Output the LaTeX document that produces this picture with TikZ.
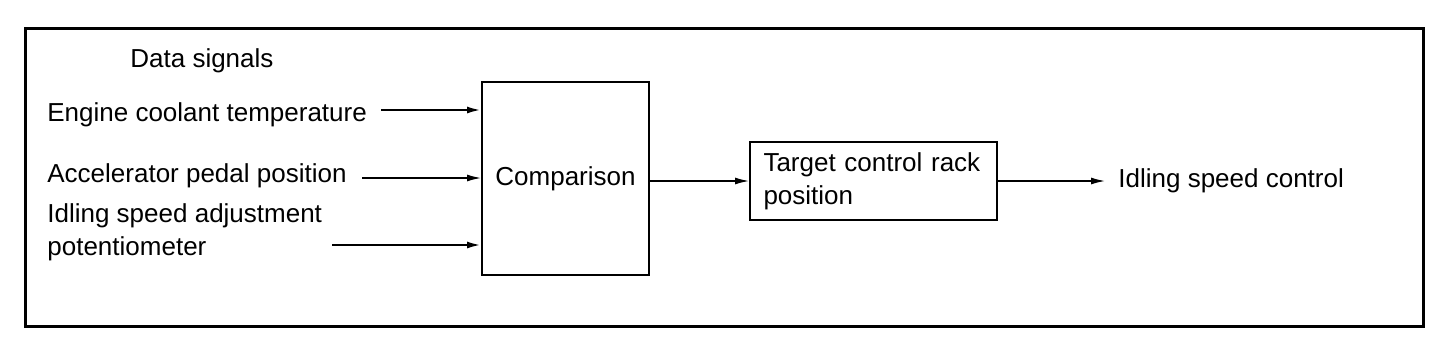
\documentclass[tikz,border=0pt]{standalone}
\usepackage{fontspec}
\setmainfont{Liberation Sans}
\usetikzlibrary{arrows.meta,positioning}

\begin{document}
\begin{tikzpicture}[x=0.5pt, y=-0.5pt, font=\fontsize{13}{16.5}\selectfont,
  lbl/.style={inner sep=0pt, anchor=base west, align=left},
  blk/.style={draw, line width=1pt, inner sep=0pt},
  sig/.style={-{Latex[length=7pt,width=3.5pt]}, line width=1.1pt},
  flow/.style={-{Latex[length=7pt,width=3.5pt]}, line width=0.7pt}]
\useasboundingbox (0,0) rectangle (1456,338);
\draw[line width=1.5pt] (25,28) rectangle (1423,326);
% inputs
\node[lbl] (hdr) at (130,67) {Data signals};
\node[lbl] (ect) at (47,121) {Engine coolant temperature};
\node[lbl] (app) at (47,182) {Accelerator pedal position};
\node[lbl] (pot) at (47,255) {Idling speed adjustment\\potentiometer};
\coordinate (ect-o) at (381,110);
\coordinate (app-o) at (362,178);
\coordinate (pot-o) at (332,245);
% blocks
\node[blk, minimum width=83.5pt, minimum height=96.5pt] (cmp) at (565.5,178.5) {Comparison};
\node[blk, text width=110pt, inner xsep=6.75pt, minimum height=39pt, align=left] (rack) at (873.5,181) {Target control rack\\position};
\node[lbl] (out) at (1118,187) {Idling speed control};
\coordinate (out-i) at (1105,181);
% connectors
\draw[sig] (ect-o) -- (ect-o -| cmp.west);
\draw[flow] (app-o) -- (app-o -| cmp.west);
\draw[sig] (pot-o) -- (pot-o -| cmp.west);
\draw[flow] (cmp.east |- rack.west) -- (rack.west);
\draw[flow] (rack.east) -- (out-i);
\end{tikzpicture}
\end{document}
